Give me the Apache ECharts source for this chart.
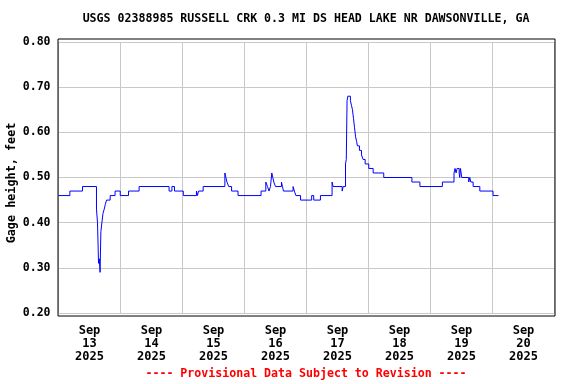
<!DOCTYPE html>
<html>
<head>
<meta charset="utf-8">
<script src="https://cdn.jsdelivr.net/npm/echarts@6/dist/echarts.min.js"></script>
<style>html,body{margin:0;padding:0;background:#fff}#c{width:576px;height:384px}</style>
</head>
<body>
<div id="c"></div>
<script>
// Hours since 2025-09-13 00:00 where the gage height changes, and the new value (ft)
var hours = [0, 4.4, 9.3, 14.7, 15.1, 15.5, 15.8, 16.1, 16.4, 16.8, 17.2, 17.7, 18.1, 18.6, 20.0, 21.9, 23.9, 27.1, 31.2, 42.8, 43.9, 44.9, 48.3,
  53.4, 53.8, 54.2, 56.0, 64.4, 64.8, 65.2, 65.9, 67.0, 69.5, 78.4, 80.25, 80.9, 81.5, 82.05, 82.57, 82.96, 83.34, 83.99, 86.3, 86.7, 87.09, 90.8, 91.3, 91.9, 93.7,
  98.0, 98.8, 101.4, 105.9, 106.3, 109.8, 110.2, 111.1, 111.4, 111.7, 112.0, 113.0, 113.4, 113.8, 114.2, 114.6, 115.0, 115.4, 115.7, 116.5, 117.3, 117.9, 118.7, 120.1, 121.8, 125.9,
  136.8, 139.9, 148.6, 153.1, 153.5, 153.9, 154.3, 155.1, 155.3, 155.6, 156.1, 158.8, 159.2, 159.6, 160.5, 163.1, 168.2, 170.3];
var gage = [0.46, 0.47, 0.48, 0.43, 0.40, 0.31, 0.32, 0.29, 0.38, 0.40, 0.42, 0.43, 0.44, 0.45, 0.46, 0.47, 0.46, 0.47, 0.48, 0.47, 0.48, 0.47, 0.46,
  0.47, 0.46, 0.47, 0.48, 0.51, 0.50, 0.49, 0.48, 0.47, 0.46, 0.47, 0.49, 0.48, 0.47, 0.48, 0.51, 0.50, 0.49, 0.48, 0.49, 0.48, 0.47, 0.48, 0.47, 0.46, 0.45,
  0.46, 0.45, 0.46, 0.49, 0.48, 0.47, 0.48, 0.53, 0.54, 0.67, 0.68, 0.67, 0.66, 0.65, 0.63, 0.61, 0.59, 0.58, 0.57, 0.56, 0.55, 0.54, 0.53, 0.52, 0.51, 0.50,
  0.49, 0.48, 0.49, 0.51, 0.52, 0.51, 0.52, 0.51, 0.50, 0.52, 0.50, 0.49, 0.50, 0.49, 0.48, 0.47, 0.46, 0.46];
var dayLabels = ['Sep\n13\n2025', 'Sep\n14\n2025', 'Sep\n15\n2025', 'Sep\n16\n2025', 'Sep\n17\n2025', 'Sep\n18\n2025', 'Sep\n19\n2025', 'Sep\n20\n2025'];
var yTicks = [0.2, 0.3, 0.4, 0.5, 0.6, 0.7, 0.8];

var FONT = '"DejaVu Sans Mono", monospace';
var data = hours.map(function (h, i) { return [h, gage[i]]; });
var chart = echarts.init(document.getElementById('c'), null, { renderer: 'canvas' });
chart.setOption({
  animation: false,
  backgroundColor: '#fff',
  grid: [
    { left: 58.5, top: 42, width: 496, height: 271, show: false },
    { left: 58, top: 39, width: 497, height: 277, show: true, borderColor: '#000', borderWidth: 1, backgroundColor: 'transparent', z: 5 }
  ],
  xAxis: [
    { type: 'value', gridIndex: 0, min: 0, max: 192, interval: 24,
      axisLine: { show: false }, axisTick: { show: false }, axisLabel: { show: false },
      splitLine: { show: true, lineStyle: { color: '#c8c8c8', width: 1 } } },
    { type: 'value', gridIndex: 0, position: 'bottom', min: 0, max: 192, interval: 12,
      axisLine: { show: false }, axisTick: { show: false }, splitLine: { show: false },
      axisLabel: {
        show: true, margin: 11, lineHeight: 13, fontFamily: FONT, fontWeight: 'bold', fontSize: 12, color: '#000',
        showMinLabel: false, showMaxLabel: false,
        formatter: function (v) {
          if (v % 24 !== 12) return '';
          return dayLabels[(v - 12) / 24] || '';
        }
      } }
  ],
  yAxis: [
    { type: 'value', gridIndex: 0, min: yTicks[0], max: yTicks[yTicks.length - 1], interval: 0.1,
      axisLine: { show: false }, axisTick: { show: false },
      axisLabel: { margin: 8, fontFamily: FONT, fontWeight: 'bold', fontSize: 11.5, color: '#000',
        formatter: function (v) { return v.toFixed(2); } },
      splitLine: { show: true, lineStyle: { color: '#c8c8c8', width: 1 } } }
  ],
  graphic: [
    { type: 'text', x: 306, y: 19,
      style: { text: 'USGS 02388985 RUSSELL CRK 0.3 MI DS HEAD LAKE NR DAWSONVILLE, GA', fontFamily: FONT, fontWeight: 'bold', fontSize: 11.6, fill: '#000', textAlign: 'center', textVerticalAlign: 'middle' } },
    { type: 'text', x: 12, y: 183, rotation: Math.PI / 2,
      style: { text: 'Gage height, feet', fontFamily: FONT, fontWeight: 'bold', fontSize: 11.8, fill: '#000', textAlign: 'center', textVerticalAlign: 'middle' } },
    { type: 'text', x: 306, y: 374,
      style: { text: '---- Provisional Data Subject to Revision ----', fontFamily: FONT, fontWeight: 'bold', fontSize: 11.6, fill: '#ff0000', textAlign: 'center', textVerticalAlign: 'middle' } }
  ],
  series: [{
    type: 'line', xAxisIndex: 0, yAxisIndex: 0, step: 'end', data: data, showSymbol: false, symbol: 'none',
    lineStyle: { color: '#0000ff', width: 1 }, z: 3
  }]
});
</script>
</body>
</html>
